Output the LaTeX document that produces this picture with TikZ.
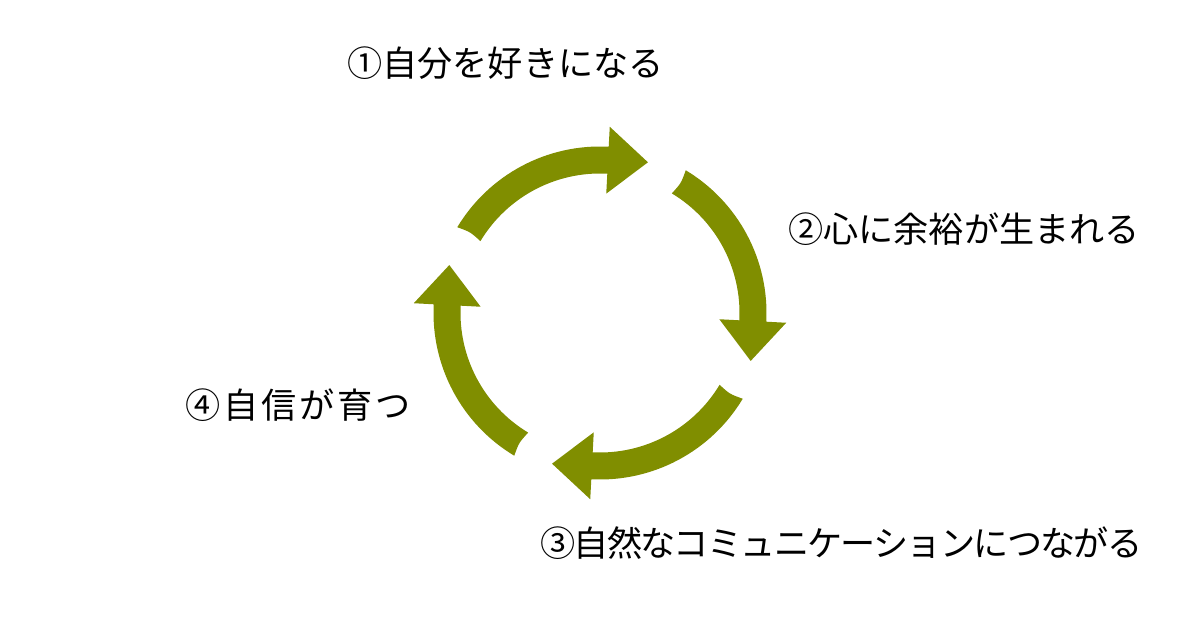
\documentclass[tikz,border=0pt]{standalone}
\usepackage{fontspec}
\usepackage{xcolor}
\usepackage{tikz}
\usetikzlibrary{calc}
\newfontfamily\jpfont{Noto Sans CJK JP}
\newfontfamily\jpfontnarrow[LetterSpace=-5]{Noto Sans CJK JP}
\newfontfamily\jpfontwide[LetterSpace=8]{Noto Sans CJK JP}
\definecolor{cycleolive}{RGB}{128,142,0}

\begin{document}
\begin{tikzpicture}[x=0.02cm, y=0.02cm]
  \useasboundingbox (0,0) rectangle (1200,628);
  \tikzset{
    cyclearrow/.style={fill=cycleolive, draw=none},
    steplabel/.style={font=\jpfont\fontsize{20}{24}\selectfont, text=black, anchor=west, inner sep=0pt}
  }
  \foreach \ang in {0,-90,-180,-270} {
    \begin{scope}[shift={(600,315)}, rotate=\ang]
      \fill[cyclearrow] (149:166.5) arc[start angle=149, end angle=87, radius=166.5]
        -- (87:186.5) -- ($(87:153)+(-3:40)$) -- (87:119.5) -- (87:139.5)
        arc[start angle=87, end angle=149, radius=139.5]
        .. controls (148:153) .. cycle;
    \end{scope}
  }
  \node[steplabel] (s1) at (347,565) {①自分を好きになる};
  \node[steplabel] (s2) at (788,399) {②心に余裕が生まれる};
  \node[steplabel, font=\jpfontnarrow\fontsize{20}{24}\selectfont] (s3) at (540,85) {③自然なコミュニケーションにつながる};
  \node[steplabel, font=\jpfontwide\fontsize{20}{24}\selectfont] (s4) at (185,223) {④自信が育つ};
\end{tikzpicture}
\end{document}
